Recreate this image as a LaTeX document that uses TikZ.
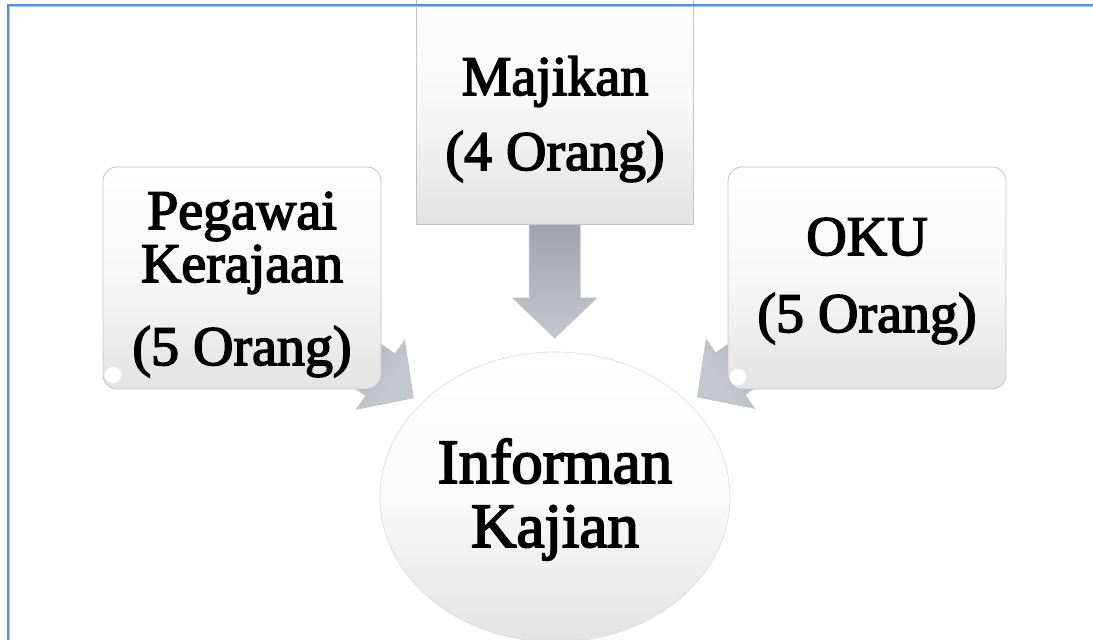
\documentclass[tikz,border=0pt]{standalone}
\usepackage{fontspec}
\setmainfont{Liberation Serif}
\newfontfamily\heavyserif[FakeBold=2.8]{Liberation Serif}
\usetikzlibrary{calc,shapes.geometric}

\definecolor{framedark}{HTML}{5A8ED6}
\definecolor{framelight}{HTML}{A3C5EE}
\definecolor{boxedge}{HTML}{C4C4C4}
\definecolor{boxlow}{HTML}{E3E3E3}
\definecolor{arrowmid}{HTML}{9FA2A8}
\definecolor{arrowlight}{HTML}{C4C7CC}
\definecolor{arrowedge}{HTML}{8E9197}

\pgfdeclarelayer{back}
\pgfsetlayers{back,main}

\tikzset{
  panel/.style={draw=boxedge, line width=0.8pt, top color=white, bottom color=boxlow,
    middle color=white!97!black, inner sep=0pt, minimum width=278pt, minimum height=222pt},
  roundpanel/.style={panel, rounded corners=14pt},
  hub/.style={ellipse, draw=gray!28, line width=0.6pt, top color=white,
    bottom color=boxlow, middle color=white!98!black,
    minimum width=350pt, minimum height=290pt, inner sep=0pt},
  txt/.style={anchor=base, inner sep=0pt, font=\heavyserif\fontsize{56}{60}\selectfont},
  hubtxt/.style={anchor=base, inner sep=0pt, font=\heavyserif\fontsize{63}{68}\selectfont},
  blockarrow/.style={left color=arrowlight, right color=arrowlight, middle color=arrowmid,
    draw=arrowedge!55!white, line width=0.8pt, line join=miter},
  gloss/.style={fill=white, draw=gray!18, line width=0.5pt},
}

% block arrow from the centre of #1 towards the centre of #2:
% #3 = tip distance, #4 = neck distance, #5 = shading angle
\newcommand\blockarrowto[5]{%
  \begin{pgfonlayer}{back}
    \coordinate (#1-tip) at ($(#1.center)!#3pt!(#2.center)$);
    \coordinate (#1-neck) at ($(#1.center)!#4pt!(#2.center)$);
    \draw[blockarrow, shading angle=#5]
      ($(#1.center)!25.5pt!90:(#2.center)$) --
      ($(#1-neck)!25.5pt!90:(#2.center)$) --
      ($(#1-neck)!42pt!90:(#2.center)$) --
      (#1-tip) --
      ($(#1-neck)!42pt!-90:(#2.center)$) --
      ($(#1-neck)!25.5pt!-90:(#2.center)$) --
      ($(#1.center)!25.5pt!-90:(#2.center)$) -- cycle;
  \end{pgfonlayer}}

\begin{document}
\begin{tikzpicture}[x=1pt,y=-1pt]
  \useasboundingbox (0,0) rectangle (1093,640);
  \begin{pgfonlayer}{back}
    \fill[white] (0,0) rectangle (1093,640);
  \end{pgfonlayer}
  \clip (0,0) rectangle (1093,640);

  % central ellipse and the three source panels
  \node[hub] (inf) at (555,497) {};
  \node[panel, minimum width=277pt, minimum height=244pt] (mj) at (554.5,102) {};
  \node[roundpanel] (pg) at (242,278) {};
  \node[roundpanel] (oku) at (867,278) {};

  % small gloss spots on the rounded panels
  \filldraw[gloss] (113,375) circle (8.5);
  \filldraw[gloss] (738,377) circle (8.5);

  % arrows into the ellipse
  \blockarrowto{mj}{inf}{236}{196}{0}
  \blockarrowto{pg}{inf}{209}{169}{55}
  \blockarrowto{oku}{inf}{207}{167}{125}

  % page frame
  \draw[framedark, line width=1.6pt] (7.8,660) -- (7.8,4.8) -- (1110,4.8);
  \draw[framelight, line width=1.1pt] (9.4,660) -- (9.4,6.4) -- (1110,6.4);

  % labels
  \node[txt] (mjA) at (555,95) {Majikan};
  \node[txt] (mjB) at (555,170) {(4 Orang)};
  \node[txt] (pgA) at (242,229) {Pegawai};
  \node[txt] (pgB) at (242,282) {Kerajaan};
  \node[txt] (pgC) at (242,365) {(5 Orang)};
  \node[txt] (okuA) at (867,255) {OKU};
  \node[txt] (okuB) at (867,332) {(5 Orang)};
  \node[hubtxt] (infA) at (555,483) {Informan};
  \node[hubtxt] (infB) at (555,547) {Kajian};
\end{tikzpicture}
\end{document}
